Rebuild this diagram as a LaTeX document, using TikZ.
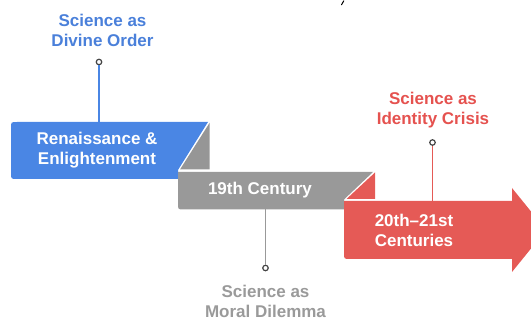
\documentclass[tikz,border=0pt]{standalone}
\usepackage{fontspec}
\setmainfont{Liberation Sans}
\definecolor{cblue}{HTML}{4A86E4}
\definecolor{cgray}{HTML}{999999}
\definecolor{cgrayfold}{HTML}{969696}
\definecolor{cred}{HTML}{E55A56}
\definecolor{cbluetxt}{HTML}{4A80DA}
\definecolor{credtxt}{HTML}{E5524F}
\definecolor{cgraytxt}{HTML}{9A9A9A}
\definecolor{cdot}{HTML}{444444}
\tikzset{
  lbl/.style={font=\fontsize{17}{20}\selectfont\bfseries, align=center, inner sep=0pt},
  boxtxt/.style={lbl, text=white},
  pin/.style={circle, draw=cdot, fill=white, line width=1.2pt, minimum size=5.5pt, inner sep=0pt},
  conn/.style={line width=1.6pt}
}
\begin{document}
\begin{tikzpicture}[x=1pt,y=-1pt]
\useasboundingbox (0,0) rectangle (531,320);
% stray mark at top
\draw[line width=1pt, line cap=round] (341.5,4.8) -- (343.8,0.8);
% blue band
\fill[cblue] (208,122) -- (178,170) -- (178,179) -- (17,179) .. controls (11,179) .. (11,173) -- (11,128) .. controls (11,122) .. (17,122) -- cycle;
\fill[cgrayfold] (209.5,123) -- (209.5,169.5) -- (180,169.5) -- cycle;
% gray band
\fill[cgray] (373,172) -- (344,199.5) -- (344,209.5) -- (184,209.5) .. controls (178,209.5) .. (178,203.5) -- (178,172) -- cycle;
\fill[cred] (375,172.5) -- (375,199) -- (346.5,199) -- cycle;
% red arrow
\fill[cred] (344,201) -- (512,201) -- (512,188) -- (546,230) -- (512,272) -- (512,259) -- (350,259) .. controls (344,259) .. (344,253) -- cycle;
% texts in bands
\node[boxtxt] (t1) at (97,150) {Renaissance \&\\Enlightenment};
\node[boxtxt] (t2) at (260,190.5) {19th Century};
\node[boxtxt] (t3) at (414,230) {20th--21st\\Centuries};
% band anchor coordinates
\coordinate (b1) at (99,122);
\coordinate (b2) at (265.5,209.5);
\coordinate (b3) at (432.5,201);
% pins
\node[pin] (p1) at (99,62) {};
\node[pin] (p2) at (265.5,268) {};
\node[pin] (p3) at (432.5,142.5) {};
\draw[conn, cblue] (p1) -- (b1);
\draw[conn, cgray] (b2) -- (p2);
\draw[conn, cred] (p3) -- (b3);
% labels
\node[lbl, text=cbluetxt] (l1) at (102.5,30) {Science as\\Divine Order};
\node[lbl, text=credtxt] (l3) at (433,110.5) {Science as\\Identity Crisis};
\node[lbl, text=cgraytxt] (l2) at (265.5,301) {Science as\\Moral Dilemma};
\end{tikzpicture}
\end{document}
